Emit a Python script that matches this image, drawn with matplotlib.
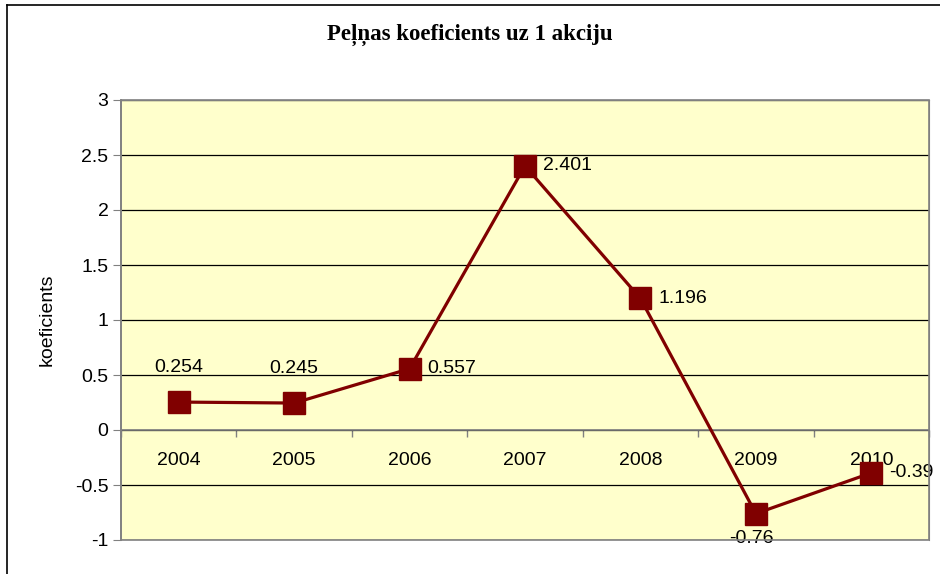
import numpy as np
import matplotlib.pyplot as plt
from matplotlib.lines import Line2D
from matplotlib.patches import Rectangle

plt.rcParams['font.family'] = ['Liberation Sans', 'DejaVu Sans']

years = ['2004', '2005', '2006', '2007', '2008', '2009', '2010']
values = [0.254, 0.245, 0.557, 2.401, 1.196, -0.76, -0.39]
labels = ['0.254', '0.245', '0.557', '2.401', '1.196', '-0.76', '-0.39']
# where each data label sits relative to its marker
label_side = ['above', 'above', 'right', 'right', 'right', 'below', 'right']

fig = plt.figure(figsize=(9.4, 5.74), dpi=100)
ax = fig.add_axes([121 / 940, 1 - 540 / 574, 808 / 940, 440 / 574])
ax.set_facecolor('#FFFFCC')

x = np.arange(len(years))
ax.plot(x, values, color='#800000', linewidth=2.3, marker='s',
        markersize=16, markerfacecolor='#800000', markeredgecolor='#800000',
        zorder=4)

for xi, v, lab, side in zip(x, values, labels, label_side):
    if side == 'above':
        off, ha, va = (0, 25), 'center', 'center'
    elif side == 'below':
        off, ha, va = (-3, -18), 'center', 'center'
    else:
        off, ha, va = (13, 0), 'left', 'center'
    ax.annotate(lab, (xi, v), xytext=off, textcoords='offset points',
                ha=ha, va=va, fontsize=14, zorder=5)

ax.set_xlim(-0.5, len(years) - 0.5)
ax.set_ylim(-1, 3)
ax.set_yticks(np.arange(-1, 3.01, 0.5))
ax.set_yticklabels(['-1', '-0.5', '0', '0.5', '1', '1.5', '2', '2.5', '3'])
ax.yaxis.grid(True, color='black', linewidth=0.9)
ax.set_axisbelow(True)

ax.set_xticks(x)
ax.set_xticklabels(years)
ax.set_xticks(np.arange(-0.5, len(years)), minor=True)
ax.tick_params(axis='x', which='major', length=0, pad=16, labelsize=14)
ax.tick_params(axis='x', which='minor', length=5, direction='out',
               color='#808080', width=1)
ax.tick_params(axis='y', length=6, direction='out', color='#808080',
               labelsize=14, pad=3)

for s in ['top', 'right']:
    ax.spines[s].set_color('#808080')
ax.spines['left'].set_color('#808080')
ax.spines['left'].set_linewidth(1.2)
ax.spines['bottom'].set_position(('data', 0))
ax.spines['bottom'].set_color('#808080')
ax.spines['bottom'].set_linewidth(1.2)
ax.add_patch(Rectangle((0, 0), 1, 1, transform=ax.transAxes, fill=False,
                       edgecolor='#808080', linewidth=1.2, zorder=6,
                       clip_on=False))

ax.set_ylabel('koeficients', fontsize=14, labelpad=14)

fig.text(0.5, 1 - 35 / 574, 'Peļņas koeficients uz 1 akciju',
         ha='center', va='center', fontsize=16.5, fontweight='bold',
         family=['Liberation Serif', 'DejaVu Serif'])

# chart frame (left and top edges visible)
fig.add_artist(Line2D([7 / 940, 7 / 940], [0, 1 - 5 / 574],
                      color='black', linewidth=1.2))
fig.add_artist(Line2D([7 / 940, 1], [1 - 5 / 574, 1 - 5 / 574],
                      color='black', linewidth=1.2))

fig.savefig('out.png', dpi=100)
